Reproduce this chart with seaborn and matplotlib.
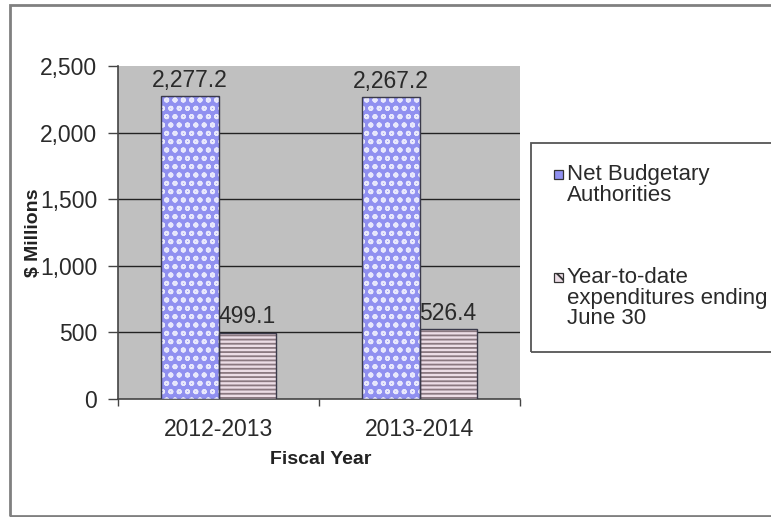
import matplotlib
matplotlib.use("Agg")
import matplotlib.pyplot as plt
from matplotlib.patches import Rectangle
import seaborn as sns
import pandas as pd

years = ["2012-2013", "2013-2014"]
series = ["Net Budgetary Authorities", "Year-to-date expenditures ending June 30"]
legend_labels = ["Net Budgetary\nAuthorities", "Year-to-date\nexpenditures ending\nJune 30"]
net_budget = [2277.2, 2267.2]
ytd_exp = [499.1, 526.4]
yticks = [0, 500, 1000, 1500, 2000, 2500]

df = pd.DataFrame({
    "year": years * 2,
    "series": [series[0]] * 2 + [series[1]] * 2,
    "value": net_budget + ytd_exp,
})

sns.set_theme(style="white")
plt.rcParams["font.family"] = ["Liberation Sans", "DejaVu Sans"]
plt.rcParams["hatch.linewidth"] = 1.3

W, H = 771, 517
fig = plt.figure(figsize=(W / 100, H / 100), dpi=100)
fig.patch.set_facecolor("white")
ax = fig.add_axes([118 / W, 1 - 399 / H, (520 - 118) / W, (399 - 66) / H])

faces = ["#9090f0", "#ecdde6"]
hatch_cols = ["#e8e8fc", "#8a7880"]
hatches = ["oo", "----"]

sns.barplot(data=df, x="year", y="value", hue="series", hue_order=series,
            order=years, palette=faces, width=0.57, gap=0, dodge=True,
            saturation=1, ax=ax, legend=False, linewidth=0, zorder=3)

ax.set_facecolor("#c0c0c0")
ax.set_ylim(0, 2500)
ax.set_xlim(-0.5, 1.5)
ax.set_yticks(yticks)
ax.set_yticklabels([f"{v:,}" for v in yticks])

for cont, fc, hc, ht in zip(ax.containers, faces, hatch_cols, hatches):
    for bar in cont:
        bar.set_facecolor(fc)
        bar.set_edgecolor(hc)
        bar.set_hatch(ht)
        bar.set_linewidth(0)
        ax.add_patch(Rectangle(bar.get_xy(), bar.get_width(), bar.get_height(),
                               fill=False, ec="#3a3a4a", lw=1.0, zorder=4))
    ax.bar_label(cont, labels=[f"{v:,.1f}" for v in cont.datavalues],
                 padding=3, fontsize=16.5, color="#2a2a2a", zorder=5)

# gridlines (Excel style)
ax.grid(False)
for v in yticks[1:-1]:
    ax.axhline(v, color="#222222", lw=1.0, zorder=1)

for s in ["top", "right"]:
    ax.spines[s].set_visible(False)
for s in ["left", "bottom"]:
    ax.spines[s].set_visible(True)
    ax.spines[s].set_color("#444444")
    ax.spines[s].set_linewidth(1.2)

ax.tick_params(axis="y", direction="out", length=7, width=1, color="#444444",
               pad=8, labelsize=16.5, labelcolor="#2a2a2a", left=True)
# category labels at centres, ticks between categories
ax.set_xticks([-0.5, 0.5, 1.5])
ax.set_xticklabels(["", "", ""])
ax.set_xticks([0, 1], minor=True)
ax.set_xticklabels(years, minor=True)
ax.tick_params(axis="x", which="major", direction="out", length=5, width=1,
               color="#444444", bottom=True)
ax.tick_params(axis="x", which="minor", length=0, pad=14, labelsize=16.5,
               labelcolor="#2a2a2a")

ax.set_xlabel("Fiscal Year", fontsize=14, fontweight="bold", color="#222222")
ax.set_ylabel("$ Millions", fontsize=14, fontweight="bold", color="#222222")
ax.xaxis.set_label_coords(0.505, (399 - 460) / (399 - 66), transform=ax.transAxes)
ax.yaxis.set_label_coords((33 - 118) / (520 - 118), 0.5, transform=ax.transAxes)
ax.xaxis.label.set_va("center")
ax.yaxis.label.set_va("center")

# legend box (manual, Excel-like)
def fx(px):
    return px / W

def fy(py):
    return 1 - py / H

fig.add_artist(Rectangle((fx(531), fy(352)), fx(771 - 531 + 5), (352 - 143) / H,
                         transform=fig.transFigure, fill=False, ec="#555555",
                         lw=1.3))
entry_y = [175, 278]
leg_hatches = ["", "\\\\"]
for lab, fc, lh, ey in zip(legend_labels, faces, leg_hatches, entry_y):
    fig.add_artist(Rectangle((fx(554), fy(ey + 4)), 9 / W, 9 / H,
                             transform=fig.transFigure, fc=fc, ec="#333333",
                             lw=0.9, hatch=lh))
    fig.text(fx(567), fy(ey - 11), lab, ha="left", va="top", fontsize=16,
             color="#2a2a2a", linespacing=0.98)

# outer chart frame
fig.add_artist(Rectangle((fx(10), fy(516)), fx(771), (516 - 5) / H,
                         transform=fig.transFigure, fill=False, ec="#808080",
                         lw=2.0))

fig.savefig("out.png", dpi=100)
